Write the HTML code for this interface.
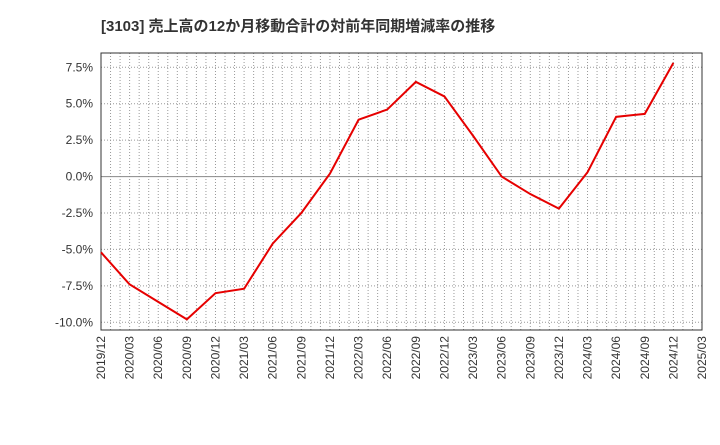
<!DOCTYPE html>
<html><head><meta charset="utf-8"><style>
body{margin:0;background:#fff;}
svg text{font-family:"Liberation Sans","Noto Sans CJK JP",sans-serif;}
</style></head><body>
<svg id="c" width="720" height="440" xmlns="http://www.w3.org/2000/svg">
<text x="101" y="31" font-size="15" font-weight="bold" fill="#333">[3103]  売上高の12か月移動合計の対前年同期増減率の推移</text>
</svg>
<script>
const categories=["2019/12","2020/03","2020/06","2020/09","2020/12","2021/03","2021/06","2021/09","2021/12","2022/03","2022/06","2022/09","2022/12","2023/03","2023/06","2023/09","2023/12","2024/03","2024/06","2024/09","2024/12","2025/03"];
const values=[-5.2,-7.4,-8.6,-9.8,-8.0,-7.7,-4.6,-2.5,0.2,3.9,4.6,6.5,5.5,2.8,0.0,-1.2,-2.2,0.3,4.1,4.3,7.8];
const yTicks=[7.5,5.0,2.5,0.0,-2.5,-5.0,-7.5,-10.0];
const yTickLabels=["7.5%","5.0%","2.5%","0.0%","-2.5%","-5.0%","-7.5%","-10.0%"];
const L=101,R=702,T=53,B=330,yMax=8.48,yMin=-10.53;
const NS="http://www.w3.org/2000/svg",svg=document.getElementById('c');
const xs=i=>L+(R-L)*i/(categories.length-1);
const ys=v=>T+(yMax-v)/(yMax-yMin)*(B-T);
function mk(t,a,p){const e=document.createElementNS(NS,t);for(const k in a)e.setAttribute(k,a[k]);(p||svg).appendChild(e);return e;}
const g=mk('g',{});


const months=(categories.length-1)*3;
for(let m=1;m<months;m++){const x=L+(R-L)*m/months;mk('line',{x1:x,x2:x,y1:T,y2:B,stroke:'#999','stroke-width':1,'stroke-dasharray':'1,2'},g);}
yTicks.forEach((v,i)=>{const y=ys(v);
if(v===0){const zl=mk('line',{x1:L,x2:R,y1:y,y2:y,stroke:'#888','stroke-width':1});}
else mk('line',{x1:L,x2:R,y1:y,y2:y,stroke:'#999','stroke-width':1,'stroke-dasharray':'1,2'},g);
const t=mk('text',{x:L-8,y:y+4,'font-size':12,'text-anchor':'end',fill:'#333'});t.textContent=yTickLabels[i];

});
categories.forEach((c,i)=>{const x=xs(i);const t=mk('text',{x:x+4,y:B+6,'font-size':12,'text-anchor':'end',fill:'#333',transform:`rotate(-90 ${x+4} ${B+6})`});t.textContent=c;

});
const fr=mk('rect',{x:L,y:T,width:R-L,height:B-T,fill:'none',stroke:'#333','stroke-width':1});


const pl=mk('polyline',{points:values.map((v,i)=>xs(i)+','+ys(v)).join(' '),fill:'none',stroke:'#e60000','stroke-width':2});


</script>
</body></html>
